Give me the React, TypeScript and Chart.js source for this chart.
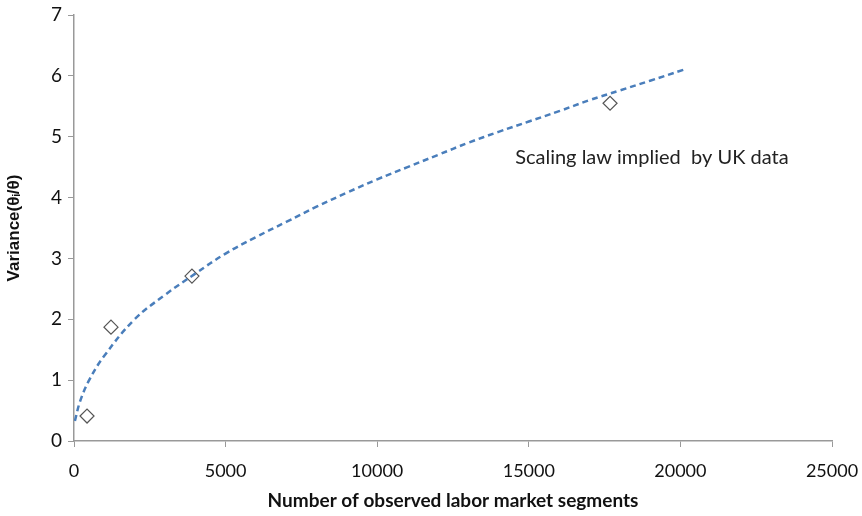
import React, { useEffect, useRef } from "react";
import { Chart, registerables } from "chart.js";

Chart.register(...registerables);

const observedX = [430, 1220, 3890, 17680];
const observedY = [0.41, 1.87, 2.71, 5.55];

const fitX = [30, 200, 500, 1000, 2000, 3000, 4000, 5000, 6000, 7000, 8000, 9000, 10000, 11000, 12000, 13000, 14000, 15000, 16000, 17000, 18000, 19000, 20100];
const fitY = [0.33, 0.65, 1.0, 1.4, 2.0, 2.4, 2.75, 3.08, 3.35, 3.6, 3.85, 4.08, 4.3, 4.5, 4.7, 4.9, 5.08, 5.25, 5.42, 5.6, 5.76, 5.92, 6.1];

const annotationText = "Scaling law implied  by UK data";
const annotationPos = { x: 14550, y: 4.65 };

const xTitle = "Number of observed labor market segments";
const yTitle = "Variance(θᵢ/θ)";

const FONT = "Lato, 'Open Sans', sans-serif";

const annotationPlugin = {
  id: "annot",
  afterDatasetsDraw(chart: any) {
    const { ctx, scales } = chart;
    const px = scales.x.getPixelForValue(annotationPos.x);
    const py = scales.y.getPixelForValue(annotationPos.y);
    ctx.save();
    ctx.font = `20px ${FONT}`;
    ctx.fillStyle = "#222";
    ctx.textAlign = "left";
    ctx.textBaseline = "middle";
    ctx.fillText(annotationText, px, py);
    ctx.restore();
  },
};

export default function App() {
  const ref = useRef<HTMLCanvasElement>(null);
  useEffect(() => {
    document.body.style.margin = "0";
    const chart = new Chart(ref.current!, {
      type: "scatter",
      data: {
        datasets: [
          {
            type: "line",
            data: fitX.map((x, i) => ({ x, y: fitY[i] })),
            borderColor: "#4a7ebb",
            borderWidth: 2.5,
            borderDash: [6, 4],
            pointRadius: 0,
            tension: 0.4,
            fill: false,
          } as any,
          {
            data: observedX.map((x, i) => ({ x, y: observedY[i] })),
            pointStyle: "rectRot",
            pointRadius: 7,
            borderColor: "#555",
            borderWidth: 1.2,
            backgroundColor: "#fff",
          },
        ],
      },
      options: {
        animation: false,
        responsive: false,
        layout: { padding: { left: 0, right: 30, top: 15, bottom: 0 } },
        plugins: { legend: { display: false }, tooltip: { enabled: false } },
        scales: {
          x: {
            type: "linear",
            min: 0,
            max: 25000,
            ticks: {
              stepSize: 5000,
              color: "#111",
              font: { family: FONT, size: 18 },
              padding: 13,
              callback: (v: any) => String(v),
            },
            grid: { drawOnChartArea: false, tickLength: 6, color: "#999" },
            border: { color: "#999", width: 1.5 },
            title: { display: true, text: xTitle, color: "#111", font: { family: FONT, size: 19, weight: "bold" }, padding: { top: 0 } },
            afterFit(s: any) { s.height = 75; s.paddingLeft = 0; s.paddingRight = 0; },
          },
          y: {
            min: 0,
            max: 7,
            ticks: { stepSize: 1, color: "#111", font: { family: FONT, size: 19 }, padding: 6 },
            grid: { drawOnChartArea: false, tickLength: 6, color: "#999" },
            border: { color: "#999", width: 1.5 },
            title: { display: true, text: yTitle, color: "#111", font: { family: "'Liberation Sans', Arial, sans-serif", size: 17, weight: "bold" }, padding: { top: 4, bottom: 4 } },
            afterFit(s: any) { s.width = 74; s.paddingTop = 0; s.paddingBottom = 0; },
          },
        },
      },
      plugins: [annotationPlugin],
    });
    return () => chart.destroy();
  }, []);
  return (
    <div style={{ width: 862, height: 516, background: "#fff" }}>
      <canvas ref={ref} width={862} height={516} />
    </div>
  );
}
